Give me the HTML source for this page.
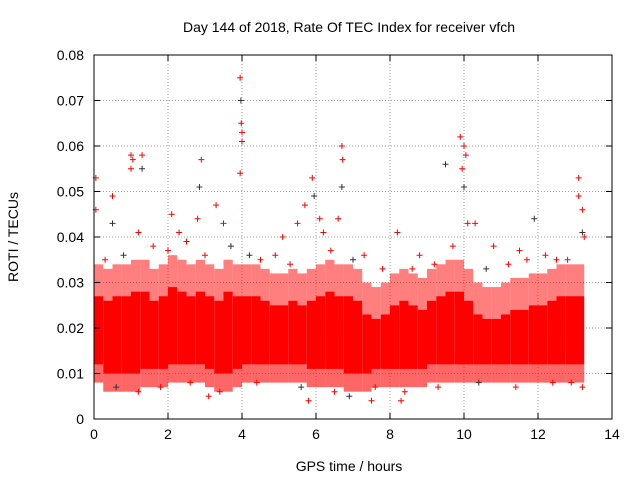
<!DOCTYPE html>
<html><head><meta charset="utf-8"><style>
body{margin:0;background:#fff;}
svg{display:block;font-family:"Liberation Sans",sans-serif;}
</style></head><body>
<svg id="chart" width="640" height="480">
<text x="349" y="32" font-size="14" text-anchor="middle">Day 144 of 2018, Rate Of TEC Index for receiver vfch</text>
<text x="349" y="471" font-size="14" text-anchor="middle">GPS time / hours</text>
<text transform="translate(18,237) rotate(-90)" font-size="14" text-anchor="middle">ROTI / TECUs</text>
<g id="grid"></g><g id="band"></g><g id="pts"></g><g id="axes"></g>
</svg>
<script>
const xTicks=[0,2,4,6,8,10,12,14];
const yTicks=[0,0.01,0.02,0.03,0.04,0.05,0.06,0.07,0.08];
const yTickLabels=["0","0.01","0.02","0.03","0.04","0.05","0.06","0.07","0.08"];
const binStart=[0,0.25,0.5,0.75,1,1.25,1.5,1.75,2,2.25,2.5,2.75,3,3.25,3.5,3.75,4,4.25,4.5,4.75,5,5.25,5.5,5.75,6,6.25,6.5,6.75,7,7.25,7.5,7.75,8,8.25,8.5,8.75,9,9.25,9.5,9.75,10,10.25,10.5,10.75,11,11.25,11.5,11.75,12,12.25,12.5,12.75,13];
const binLow=[0.010,0.008,0.008,0.008,0.008,0.009,0.009,0.009,0.010,0.010,0.010,0.010,0.009,0.008,0.008,0.009,0.010,0.010,0.010,0.010,0.010,0.010,0.010,0.009,0.009,0.009,0.009,0.008,0.008,0.008,0.009,0.009,0.009,0.009,0.009,0.009,0.010,0.010,0.010,0.010,0.010,0.010,0.010,0.010,0.010,0.010,0.010,0.010,0.010,0.010,0.010,0.010,0.010];
const binHigh=[0.030,0.029,0.030,0.030,0.031,0.031,0.029,0.030,0.032,0.031,0.030,0.031,0.030,0.029,0.031,0.030,0.030,0.030,0.029,0.028,0.028,0.029,0.028,0.029,0.030,0.031,0.030,0.030,0.029,0.026,0.025,0.026,0.028,0.029,0.028,0.027,0.029,0.030,0.031,0.031,0.029,0.026,0.025,0.025,0.026,0.027,0.027,0.028,0.028,0.029,0.030,0.030,0.030];
const ptX=[0.05,0.05,0.5,0.5,1,1,1.05,1.3,1.3,1.2,2.1,2.3,2.8,2.85,2.9,3.3,3.5,3.95,3.97,3.98,4.0,4.0,3.95,4.2,5.1,5.5,5.7,5.9,5.95,6.1,6.2,6.7,6.72,6.7,6.6,7.3,8.2,8.6,9.5,9.9,10,10.05,9.95,10,10.1,10.3,10.8,11.5,11.9,12.5,13.1,13.1,13.2,13.2,13.25,1.2,3.1,5.8,6.9,7.5,8.3,13.2,0.3,0.8,1.6,2.0,2.5,3.0,3.7,4.5,4.9,5.3,6.4,7.0,7.8,8.8,9.2,9.7,10.6,11.2,11.7,12.2,12.8,0.6,1.8,2.6,3.4,4.4,5.6,6.5,7.6,8.4,9.3,10.4,11.4,12.4,12.9];
const ptY=[0.046,0.053,0.049,0.043,0.058,0.055,0.057,0.058,0.055,0.041,0.045,0.041,0.044,0.051,0.057,0.047,0.043,0.075,0.070,0.065,0.063,0.061,0.054,0.036,0.040,0.043,0.047,0.053,0.049,0.044,0.041,0.060,0.057,0.051,0.044,0.036,0.041,0.033,0.056,0.062,0.060,0.058,0.055,0.051,0.043,0.043,0.038,0.037,0.044,0.035,0.053,0.049,0.046,0.041,0.040,0.006,0.005,0.004,0.005,0.004,0.004,0.007,0.035,0.036,0.038,0.037,0.039,0.036,0.038,0.035,0.036,0.034,0.037,0.035,0.033,0.036,0.034,0.038,0.033,0.034,0.035,0.036,0.035,0.007,0.007,0.008,0.006,0.008,0.007,0.006,0.007,0.006,0.007,0.008,0.007,0.008,0.008];
const L=94,R=612,T=55,B=419;
const xs=v=>L+(v-0)/14*(R-L);
const ys=v=>B-v/0.08*(B-T);
const NS="http://www.w3.org/2000/svg";
function mk(p,tag,a){const e=document.createElementNS(NS,tag);for(const k in a)e.setAttribute(k,a[k]);p.appendChild(e);return e;}
const grid=document.getElementById('grid'),band=document.getElementById('band'),pts=document.getElementById('pts'),axes=document.getElementById('axes');
xTicks.forEach((t,i)=>{const x=xs(t);
 if(i>0&&i<xTicks.length-1){const g=mk(grid,'line',{x1:x,x2:x,y1:T,y2:B,stroke:'#a0a0a0','stroke-dasharray':'1,2'});
 
 }
 const tl=mk(axes,'text',{x:x,y:B+20,'font-size':14,'text-anchor':'middle'});tl.textContent=t;
 
 
 mk(axes,'line',{x1:x,x2:x,y1:B,y2:B-6,stroke:'#000'});mk(axes,'line',{x1:x,x2:x,y1:T,y2:T+6,stroke:'#000'});
});
yTicks.forEach((t,i)=>{const y=ys(t);
 if(i>0&&i<yTicks.length-1){const g=mk(grid,'line',{x1:L,x2:R,y1:y,y2:y,stroke:'#a0a0a0','stroke-dasharray':'1,2'});
 
 }
 const tl=mk(axes,'text',{x:L-10,y:y+5,'font-size':14,'text-anchor':'end'});tl.textContent=yTickLabels[i];
 
 
 mk(axes,'line',{x1:L,x2:L+6,y1:y,y2:y,stroke:'#000'});mk(axes,'line',{x1:R,x2:R-6,y1:y,y2:y,stroke:'#000'});
});
const fr=mk(axes,'rect',{x:L,y:T,width:R-L,height:B-T,fill:'none',stroke:'#000'});


binStart.forEach((s,i)=>{const x1=xs(s),x2=xs(Math.min(s+0.25,13.3));const w=Math.max(1,x2-x1);
 const r=mk(band,'rect',{x:x1,y:ys(binHigh[i]-0.003),width:w,height:ys(binLow[i]+0.002)-ys(binHigh[i]-0.003),fill:'#ff0000'});
 
 
 const r2=mk(band,'rect',{x:x1,y:ys(binHigh[i]+0.004),width:w,height:ys(binHigh[i]-0.003)-ys(binHigh[i]+0.004),fill:'#ff0000','fill-opacity':0.5});
 
 
 const r3=mk(band,'rect',{x:x1,y:ys(binLow[i]+0.002),width:w,height:ys(binLow[i]-0.002)-ys(binLow[i]+0.002),fill:'#ff0000','fill-opacity':0.6});
 
 
});
ptX.forEach((v,i)=>{const x=xs(v),y=ys(ptY[i]);
 const p=mk(pts,'path',{d:`M${x-3},${y}H${x+3}M${x},${y-3}V${y+3}`,stroke:i%5===3?'#333':'#ff0000','stroke-width':1});
 
 
});
</script>
</body></html>
